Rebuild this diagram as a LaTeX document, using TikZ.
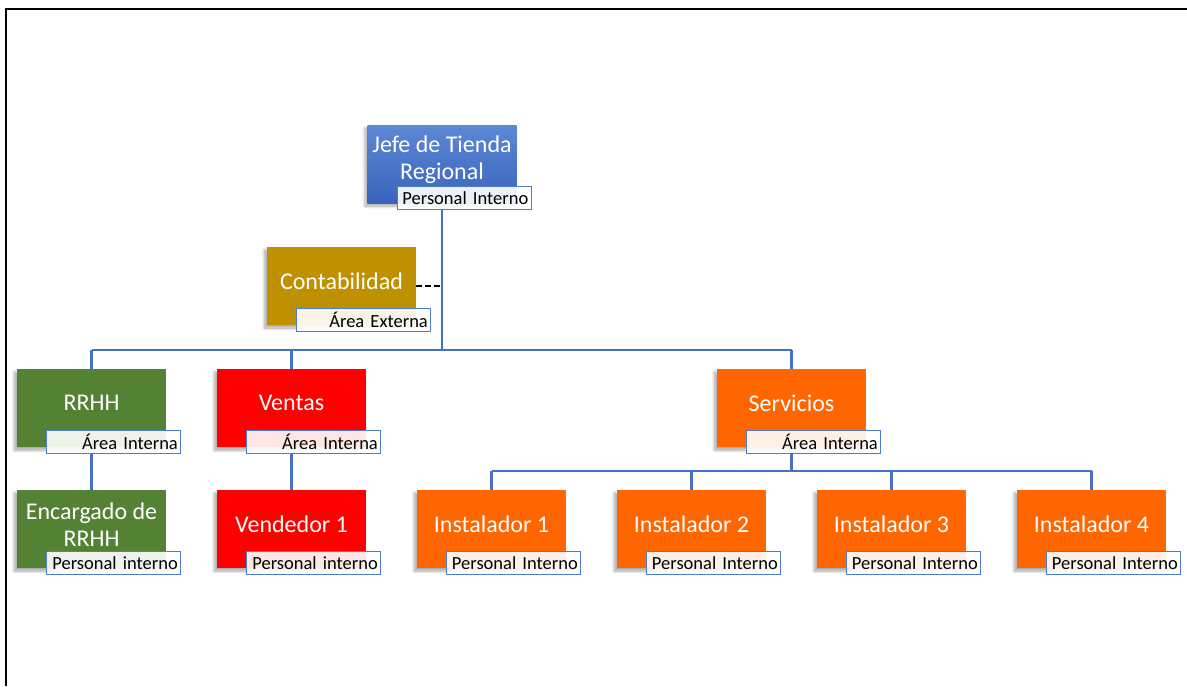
\documentclass[tikz,border=0pt]{standalone}
\usepackage{fontspec}
\setmainfont{Carlito}
\usetikzlibrary{shadows.blur,backgrounds,calc}
\definecolor{lineblue}{HTML}{4472C4}
\definecolor{tagblue}{HTML}{4F7BD0}
\definecolor{gold}{HTML}{BF9000}
\definecolor{green}{HTML}{548235}
\definecolor{red}{HTML}{FF0000}
\definecolor{orange}{HTML}{FF6600}
\definecolor{bluetop}{RGB}{92,136,214}
\definecolor{bluebot}{RGB}{58,100,186}
\tikzset{
  box/.style={rectangle, minimum width=149pt, minimum height=78pt, inner sep=0pt,
    blur shadow={shadow xshift=-2.5pt, shadow yshift=-3pt, shadow opacity=35, shadow blur steps=8, shadow blur radius=3pt}},
  boxtext/.style={text=white, font=\fontsize{24}{27}\selectfont, align=center, inner sep=0pt},
  tag/.style={rectangle, draw=tagblue, line width=1.2pt, fill=white, fill opacity=0.9, text opacity=1,
    text=black, text width=128pt, align=right, minimum height=23pt, inner xsep=3pt, inner ysep=0pt,
    font=\fontsize{18.5}{20}\selectfont},
  conn/.style={draw=lineblue, line width=2.6pt},
  dashconn/.style={draw=black, line width=2.4pt, dash pattern=on 6pt off 3pt},
}
\begin{document}
\begin{tikzpicture}[x=1pt,y=-1pt]
\useasboundingbox (0,0) rectangle (1187,686);
\draw[line width=2pt] (5.5,686) -- (5.5,8.5) -- (1187,8.5);

% Jefe
\node[box, top color=bluetop, bottom color=bluebot] (jefe) at (442,164) {};
\node[boxtext] (jefeT) at ([yshift=4pt]jefe.center) {Jefe de Tienda\\Regional};
\node[tag] (jefetag) at ($(jefe.south west)+(97,-5)$) {Personal Interno};

% Contabilidad
\node[box, fill=gold] (contab) at (341.5,286) {};
\node[boxtext] (contabT) at ([yshift=5pt]contab.center) {Contabilidad};
\node[tag] (contabtag) at ($(contab.south west)+(97,-5)$) {Área Externa};

% Second level
\node[box, fill=green] (rrhh) at (91.5,408) {};
\node[boxtext] (rrhhT) at ([yshift=5pt]rrhh.center) {RRHH};
\node[tag] (rrhhtag) at ($(rrhh.south west)+(97,-5)$) {Área Interna};

\node[box, fill=red] (ventas) at (291.5,408) {};
\node[boxtext] (ventasT) at ([yshift=5pt]ventas.center) {Ventas};
\node[tag] (ventastag) at ($(ventas.south west)+(97,-5)$) {Área Interna};

\node[box, fill=orange] (serv) at (791.5,408) {};
\node[boxtext] (servT) at ([yshift=5pt]serv.center) {Servicios};
\node[tag] (servtag) at ($(serv.south west)+(97,-5)$) {Área Interna};

% Third level
\node[box, fill=green] (enc) at (91.5,529) {};
\node[boxtext] (encT) at ([yshift=4pt]enc.center) {Encargado de\\RRHH};
\node[tag] (enctag) at ($(enc.south west)+(97,-5)$) {Personal interno};

\node[box, fill=red] (vend) at (291.5,529) {};
\node[boxtext] (vendT) at ([yshift=5pt]vend.center) {Vendedor 1};
\node[tag] (vendtag) at ($(vend.south west)+(97,-5)$) {Personal interno};

\foreach \i/\x in {1/491.5,2/691.5,3/891.5,4/1091.5}{
  \node[box, fill=orange] (inst\i) at (\x,529) {};
  \node[boxtext] (inst\i T) at ([yshift=5pt]inst\i.center) {Instalador \i};
  \node[tag] (inst\i tag) at ($(inst\i.south west)+(97,-5)$) {Personal Interno};
}

\coordinate (bus1) at (442,350);
\coordinate (bus2) at (792,471);

\begin{pgfonlayer}{background}
  \draw[conn] (jefe |- jefetag.south) -- (jefe |- bus1);
  \draw[conn] (rrhh |- bus1) -- (serv |- bus1);
  \draw[conn] (rrhh |- bus1) -- (rrhh.north);
  \draw[conn] (ventas |- bus1) -- (ventas.north);
  \draw[conn] (serv |- bus1) -- (serv.north);
  \draw[conn] (rrhh |- rrhhtag.south) -- (enc.north);
  \draw[conn] (ventas |- ventastag.south) -- (vend.north);
  \draw[conn] (serv |- servtag.south) -- (serv |- bus2);
  \draw[conn] (inst1 |- bus2) -- (inst4 |- bus2);
  \foreach \i in {1,2,3,4}{
    \draw[conn] (inst\i |- bus2) -- (inst\i.north);
  }
\end{pgfonlayer}
\draw[dashconn] (contab.east) -- (contab.east -| jefe);
\end{tikzpicture}
\end{document}
